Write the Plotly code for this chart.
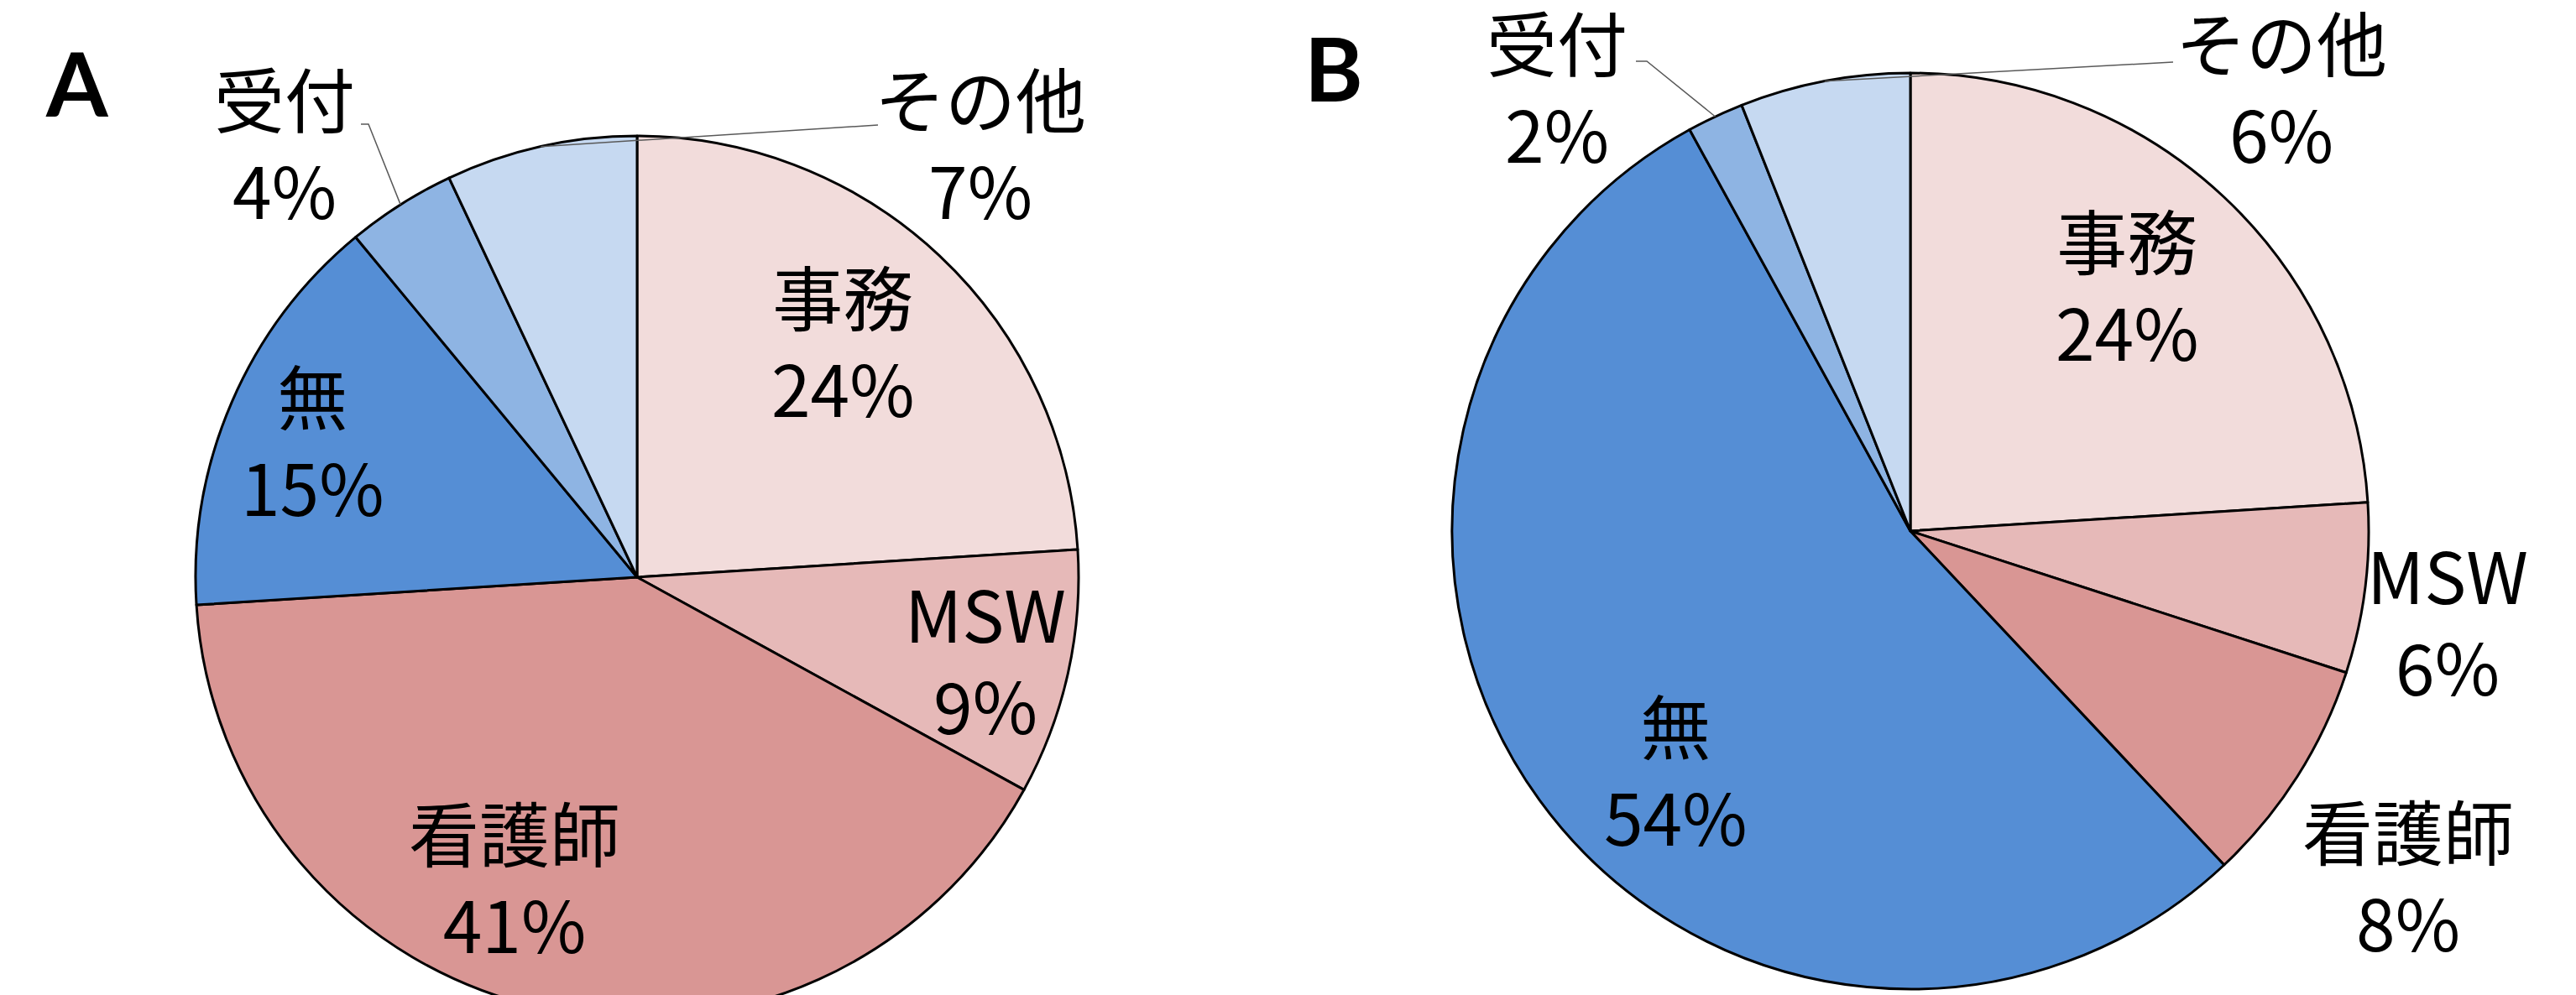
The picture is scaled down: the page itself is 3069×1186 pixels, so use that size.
import math
import plotly.graph_objects as go

# --- data -------------------------------------------------------------
categories = ["事務", "MSW", "看護師", "無", "受付", "その他"]
values_a = [24, 9, 41, 15, 4, 7]
values_b = [24, 6, 8, 54, 2, 6]
slice_colors = ["#F2DCDB", "#E6B9B8", "#D99694", "#558ED5", "#8EB4E3", "#C6D9F1"]
panel_titles = ["A", "B"]

# --- layout (pixel geometry) -----------------------------------------
W, H = 3069, 1220
FONT = "Noto Sans CJK JP"

panels = [
    {
        "values": values_a,
        "center": (759, 688),
        "radius": 526,
        "title_pos": (92, 98),
        # label block centres (pixels from top-left)
        "label_pos": {
            "事務": (1004, 406),
            "MSW": (1174, 784),
            "看護師": (613, 1045),
            "無": (372, 524),
            "受付": (339, 170),
            "その他": (1168, 170),
        },
        # leader lines: start point near the label, optional elbow
        "leaders": {
            "受付": [(430, 148), (439, 148)],
            "その他": [(1046, 149)],
        },
    },
    {
        "values": values_b,
        "center": (2276, 633),
        "radius": 546,
        "title_pos": (1589, 80),
        "label_pos": {
            "事務": (2534, 339),
            "MSW": (2916, 738),
            "看護師": (2869, 1043),
            "無": (1996, 917),
            "受付": (1855, 103),
            "その他": (2718, 103),
        },
        "leaders": {
            "受付": [(1949, 73), (1962, 73)],
            "その他": [(2589, 74)],
        },
    },
]


def fx(x):
    return x / W


def fy(y):
    return 1 - y / H


fig = go.Figure()
annotations = []
shapes = []

for title, p in zip(panel_titles, panels):
    cx, cy = p["center"]
    r = p["radius"]
    vals = p["values"]
    total = sum(vals)

    fig.add_trace(
        go.Pie(
            labels=categories,
            values=vals,
            sort=False,
            direction="clockwise",
            rotation=0,
            marker=dict(colors=slice_colors, line=dict(color="#000000", width=3)),
            textinfo="none",
            hoverinfo="label+percent",
            showlegend=False,
            domain=dict(x=[fx(cx - r), fx(cx + r)], y=[fy(cy + r), fy(cy - r)]),
        )
    )

    # category + percentage labels
    cum = 0.0
    for name, v in zip(categories, vals):
        pct = round(100 * v / total)
        lx, ly = p["label_pos"][name]
        annotations.append(
            dict(
                x=fx(lx), y=fy(ly), xref="paper", yref="paper",
                text=f"{name}<br>{pct}%", showarrow=False,
                xanchor="center", yanchor="middle", align="center",
                font=dict(family=FONT, size=84, color="#000000"),
            )
        )
        # leader line to the middle of the slice's arc
        if name in p["leaders"]:
            mid = 2 * math.pi * (cum + v / 2) / total
            ex, ey = cx + r * math.sin(mid), cy - r * math.cos(mid)
            pts = p["leaders"][name] + [(ex, ey)]
            path = "M " + " L ".join(f"{fx(x)},{fy(y)}" for x, y in pts)
            shapes.append(
                dict(type="path", path=path, xref="paper", yref="paper",
                     line=dict(color="#595959", width=1.5))
            )
        cum += v

    tx, ty = p["title_pos"]
    annotations.append(
        dict(
            x=fx(tx), y=fy(ty), xref="paper", yref="paper",
            text=f"<b>{title}</b>", showarrow=False,
            xanchor="center", yanchor="middle",
            font=dict(family="Lato, Liberation Sans", size=106, color="#000000"),
        )
    )

fig.update_layout(
    width=W,
    height=H,
    margin=dict(l=0, r=0, t=0, b=0),
    paper_bgcolor="#FFFFFF",
    plot_bgcolor="#FFFFFF",
    annotations=annotations,
    shapes=shapes,
)

fig.write_html(
    "out.html",
    post_script=(
        "document.body.style.margin='0';"
        "document.body.style.overflow='hidden';"
        "document.documentElement.style.overflow='hidden';"
    ),
)
